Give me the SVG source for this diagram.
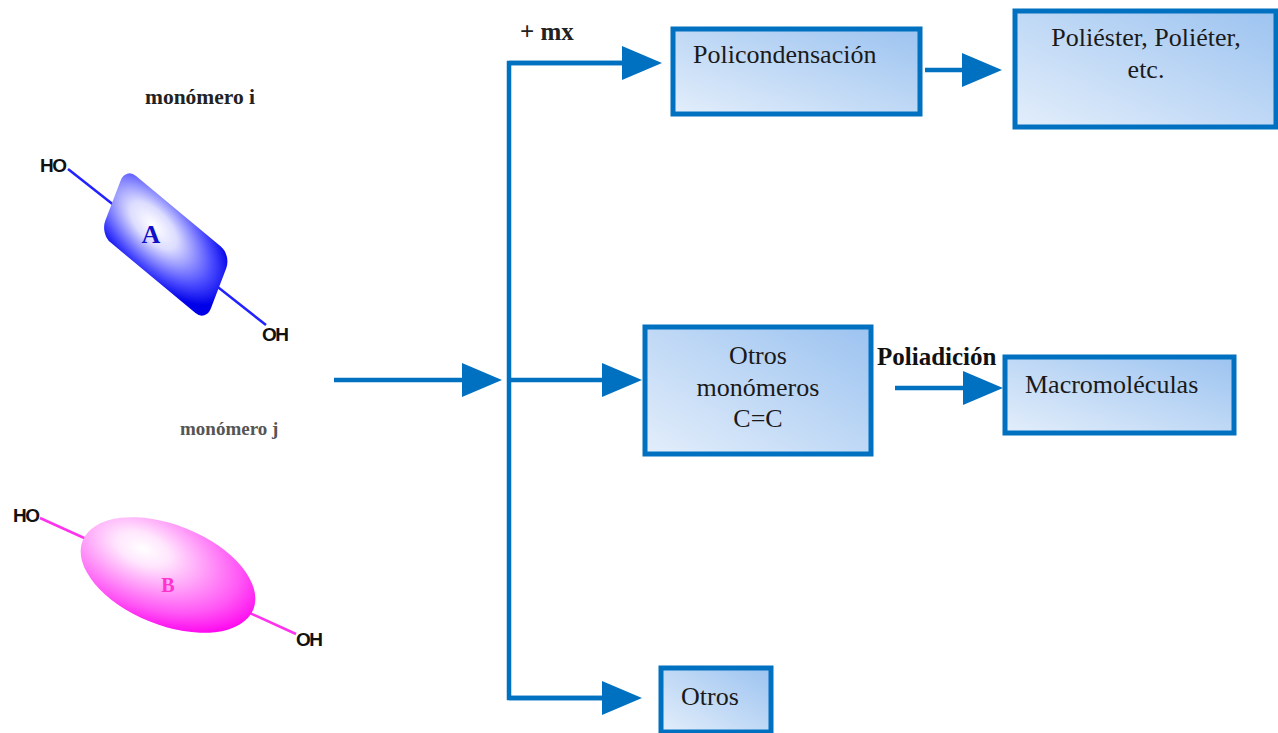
<svg xmlns="http://www.w3.org/2000/svg" width="1278" height="733" viewBox="0 0 1278 733">
<defs>
<linearGradient id="boxg" x1="0" y1="1" x2="1" y2="0">
<stop offset="0" stop-color="#e3eefb"/>
<stop offset="1" stop-color="#9cc3f0"/>
</linearGradient>
<radialGradient id="ga" cx="0.36" cy="0.4" r="0.72">
<stop offset="0" stop-color="#ffffff"/>
<stop offset="0.3" stop-color="#dcdcff"/>
<stop offset="0.75" stop-color="#4a4aff"/>
<stop offset="1" stop-color="#0000e8"/>
</radialGradient>
<radialGradient id="gb" cx="0.32" cy="0.35" r="0.75">
<stop offset="0" stop-color="#ffffff"/>
<stop offset="0.2" stop-color="#ffe6fd"/>
<stop offset="0.75" stop-color="#ff55f5"/>
<stop offset="1" stop-color="#ff00ee"/>
</radialGradient>
<marker id="ah" viewBox="0 0 40 34" refX="2" refY="17" markerWidth="40" markerHeight="34" markerUnits="userSpaceOnUse" orient="auto">
<path d="M0,0 L40,17 L0,34 Z" fill="#0070c0"/>
</marker>
</defs>
<style>
.box{fill:url(#boxg);stroke:#0070c0;stroke-width:5}
.t{font-family:"Liberation Serif",serif;font-size:26px;fill:#1a1a1a}
.tb{font-family:"Liberation Serif",serif;font-weight:bold}
.oh{font-family:"Liberation Sans",sans-serif;font-size:19px;font-weight:bold;fill:#111;letter-spacing:-1.5px}
.con{fill:none;stroke:#0070c0;stroke-width:4.5}
</style>

<g id="monomer-i">
<text class="tb" x="145" y="104" style="font-size:21.5px;fill:#222">monómero i</text>
<line x1="68" y1="169" x2="266" y2="325" stroke="#2222ff" stroke-width="2.5"/>
<rect x="-66" y="-33" width="132" height="66" rx="13" fill="url(#ga)" transform="matrix(0.8 0.665 -0.385 1.01 165.75 244.5)"/>
<text class="oh" x="40" y="172">HO</text>
<text class="oh" x="262" y="341">OH</text>
<text x="151" y="243" font-family="Liberation Serif,serif" font-weight="bold" font-size="26" fill="#1010c8" text-anchor="middle">A</text>
</g>

<g id="monomer-j">
<text class="tb" x="180" y="435" style="font-size:19px;fill:#555">monómero j</text>
<line x1="40" y1="518" x2="296" y2="634" stroke="#ff33ee" stroke-width="2.5"/>
<ellipse cx="168" cy="575" rx="92" ry="50" fill="url(#gb)" transform="rotate(22 168 575)"/>
<text class="oh" x="13" y="522">HO</text>
<text class="oh" x="296" y="646">OH</text>
<text x="168" y="592" font-family="Liberation Serif,serif" font-weight="bold" font-size="20" fill="#ff33cc" text-anchor="middle">B</text>
</g>

<g id="connectors">
<line class="con" x1="334" y1="380" x2="464" y2="380" marker-end="url(#ah)"/>
<path class="con" d="M624,63 H509 V698 H604"/>
<line class="con" x1="509" y1="63" x2="624" y2="63" marker-end="url(#ah)"/>
<line class="con" x1="509" y1="698" x2="604" y2="698" marker-end="url(#ah)"/>
<line class="con" x1="509" y1="380" x2="604" y2="380" marker-end="url(#ah)"/>
<line class="con" x1="925" y1="70" x2="964" y2="70" marker-end="url(#ah)"/>
<line class="con" x1="895" y1="388" x2="965" y2="388" marker-end="url(#ah)"/>
<text class="tb" x="520" y="40" style="font-size:25px;fill:#222">+ mx</text>
<text class="tb" x="877" y="365" style="font-size:25px;fill:#111">Poliadición</text>
</g>

<g id="policondensacion">
<rect class="box" x="673" y="29" width="247" height="85"/>
<text class="t" x="693" y="63">Policondensación</text>
</g>

<g id="poliester">
<rect class="box" x="1015" y="11" width="261" height="116"/>
<text class="t" x="1146" y="46" text-anchor="middle">Poliéster, Poliéter,</text>
<text class="t" x="1146" y="78" text-anchor="middle">etc.</text>
</g>

<g id="otros-monomeros">
<rect class="box" x="645" y="327" width="226" height="127"/>
<text class="t" x="758" y="364" text-anchor="middle">Otros</text>
<text class="t" x="758" y="396" text-anchor="middle">monómeros</text>
<text class="t" x="758" y="427" text-anchor="middle">C=C</text>
</g>

<g id="macromoleculas">
<rect class="box" x="1005" y="357" width="229" height="76"/>
<text class="t" x="1025" y="393">Macromoléculas</text>
</g>

<g id="otros">
<rect class="box" x="661" y="668" width="110" height="64"/>
<text class="t" x="681" y="705">Otros</text>
</g>
</svg>
